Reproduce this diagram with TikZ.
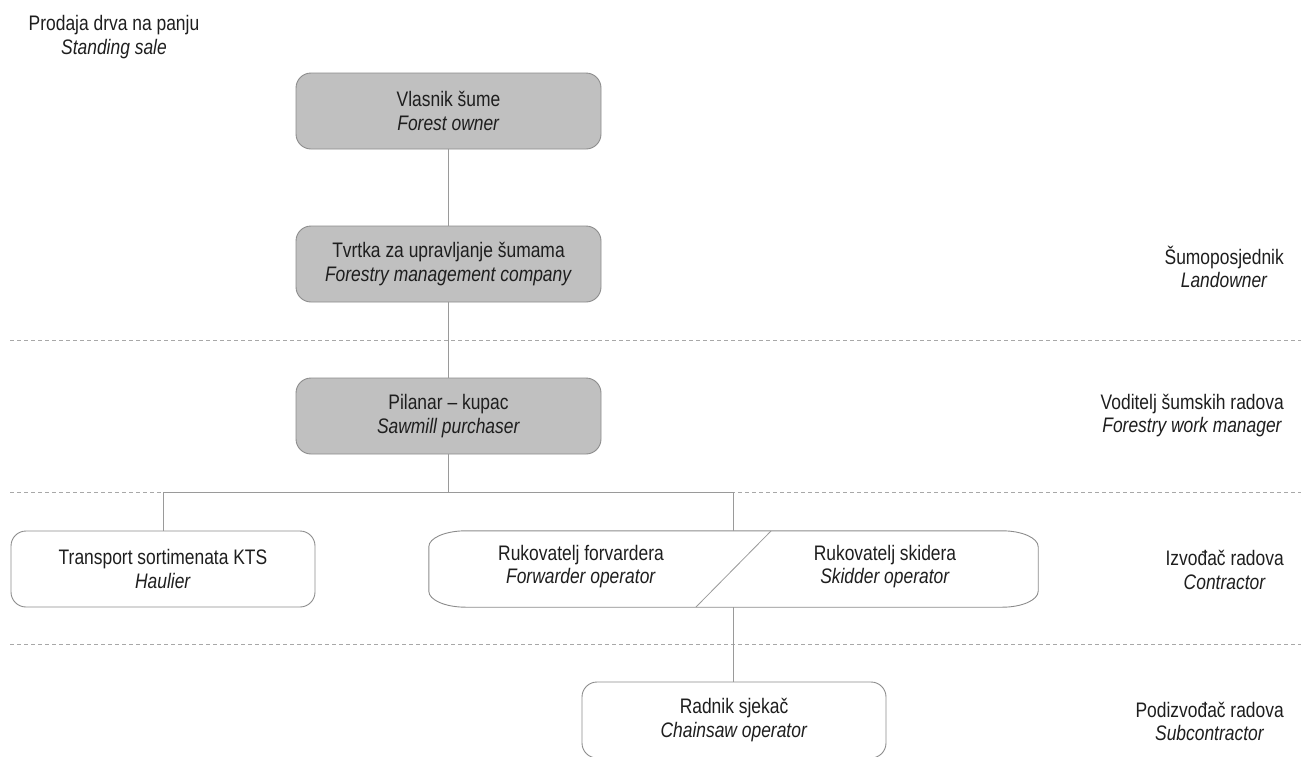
\documentclass[tikz,border=0pt]{standalone}
\usepackage{fontspec}
\setmainfont{Liberation Sans}[FakeStretch=0.83]
\definecolor{boxgray}{HTML}{C0C0C0}
\definecolor{edgegray}{HTML}{8C8C8C}
\definecolor{linegray}{HTML}{9A9A9A}
\definecolor{dashgray}{HTML}{A8A8A8}
\definecolor{txt}{HTML}{1E1E1E}
\tikzset{
  lbl/.style={inner sep=0pt, align=center, text=txt, font=\fontsize{21}{23.5}\selectfont},
  graybox/.style={lbl, draw=edgegray, fill=boxgray, line width=0.9pt, rounded corners=15pt, minimum width=305pt, minimum height=76pt},
  whitebox/.style={lbl, draw=edgegray, fill=white, line width=0.9pt, rounded corners=15pt, minimum width=304pt, minimum height=76pt},
  conn/.style={draw=linegray, line width=0.9pt},
  sep/.style={draw=dashgray, line width=0.9pt, dash pattern=on 4pt off 3pt},
  boxline/.style={draw=edgegray, line width=0.9pt}
}
\begin{document}
\begin{tikzpicture}[x=1pt,y=-1pt]
\useasboundingbox (0,0) rectangle (1301,756);

% dashed separators
\coordinate (s1l) at (10,340); \coordinate (s1r) at (1301,340);
\coordinate (s2l) at (10,492); \coordinate (s2r) at (1301,492);
\coordinate (s3l) at (10,644); \coordinate (s3r) at (1301,644);
\draw[sep] (s1l) -- (s1r);
\draw[sep] (s2l) -- (s2r);
\draw[sep] (s3l) -- (s3r);

% top-left label
\node[lbl] (sale) at (114,37) {Prodaja drva na panju\\\textit{Standing sale}};

% right labels
\node[lbl, anchor=east] (land) at (1284,267) {Šumoposjednik\\\textit{Landowner}};
\node[lbl, anchor=east] (mgr) at (1284,415.5) {Voditelj šumskih radova\\\textit{Forestry work manager}};
\node[lbl, anchor=east] (contr) at (1284,570) {Izvođač radova\\\textit{Contractor}};
\node[lbl, anchor=east] (sub) at (1284,721.5) {Podizvođač radova\\\textit{Subcontractor}};

% gray boxes
\node[graybox] (owner) at (448.5,111) {Vlasnik šume\\\textit{Forest owner}};
\node[graybox] (comp) at (448.5,264) {Tvrtka za upravljanje šumama\\\textit{Forestry management company}};
\node[graybox] (saw) at (448.5,416) {Pilanar -- kupac\\\textit{Sawmill purchaser}};

% white boxes
\node[whitebox] (haul) at (163,569) {Transport sortimenata KTS\\\textit{Haulier}};
\node[whitebox] (chain) at (734,720) {Radnik sjekač\\\textit{Chainsaw operator}};

% combined forwarder / skidder box
\node[inner sep=0pt, minimum width=609pt, minimum height=76pt] (big) at (733.5,569) {};
\draw[boxline, fill=white]
  ([xshift=37pt]big.north west) -- ([xshift=-36pt]big.north east)
  arc[start angle=90, end angle=0, x radius=36pt, y radius=16pt]
  -- ([yshift=16pt]big.south east)
  arc[start angle=0, end angle=-90, x radius=36pt, y radius=16pt]
  -- ([xshift=37pt]big.south west)
  arc[start angle=-90, end angle=-180, x radius=37pt, y radius=16pt]
  -- ([yshift=-16pt]big.north west)
  arc[start angle=180, end angle=90, x radius=37pt, y radius=16pt]
  -- cycle;
\coordinate (dtop) at (771,531);
\coordinate (dbot) at (696,607);
\draw[draw=linegray, line width=0.8pt] (dtop) -- (dbot);
\node[lbl] (fwd) at (581,566.5) {Rukovatelj forvardera\\\textit{Forwarder operator}};
\node[lbl] (skid) at (885,566.5) {Rukovatelj skidera\\\textit{Skidder operator}};

% connectors
\coordinate (bus) at (448.5,492);
\coordinate (jl) at (163,492);
\coordinate (jr) at (733,492);
\draw[conn] (owner.south) -- (comp.north);
\draw[conn] (comp.south) -- (saw.north);
\draw[conn] (saw.south) -- (bus);
\draw[conn] (jl) -- (jr);
\draw[conn] (jl) -- (haul.north);
\draw[conn] (jr) -- (jr |- big.north);
\draw[conn] (jr |- big.south) -- (chain.north -| jr);
\end{tikzpicture}
\end{document}
